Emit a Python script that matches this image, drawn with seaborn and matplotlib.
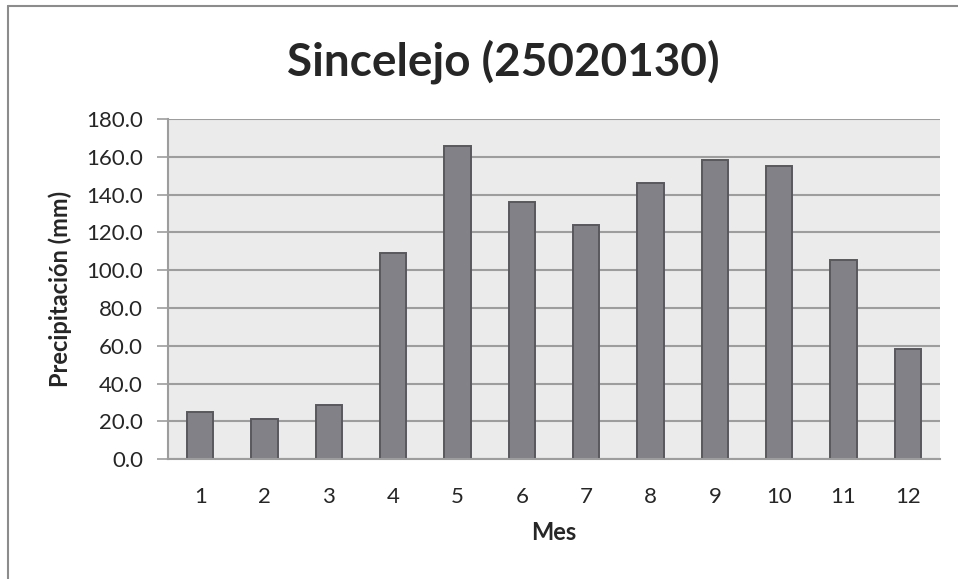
import matplotlib
matplotlib.use("Agg")
import matplotlib.pyplot as plt
from matplotlib.lines import Line2D
import numpy as np
import pandas as pd
import seaborn as sns

# Monthly precipitation, station Sincelejo (25020130)
meses = ["1", "2", "3", "4", "5", "6", "7", "8", "9", "10", "11", "12"]
precipitacion = [24.8, 21.4, 28.7, 109.2, 165.5, 135.9, 123.8, 146.3, 158.5, 155.3, 105.3, 58.6]
y_ticks = [0, 20, 40, 60, 80, 100, 120, 140, 160, 180]

df = pd.DataFrame({"Mes": meses, "Precipitación (mm)": precipitacion})

sns.set_theme(style="white")
plt.rcParams["font.family"] = ["Lato", "DejaVu Sans"]

W, H = 958, 579
fig = plt.figure(figsize=(W / 100, H / 100), dpi=100)
fig.patch.set_facecolor("white")

# plot area in pixel coordinates
left, right, top, bottom = 168, 940, 119, 459.3
ax = fig.add_axes([left / W, 1 - bottom / H, (right - left) / W, (bottom - top) / H])
ax.set_facecolor("#ebebeb")

sns.barplot(data=df, x="Mes", y="Precipitación (mm)", color="#828188",
            edgecolor="#58585d", linewidth=1.4, width=0.41, saturation=1, ax=ax)

ax.set_xlim(-0.5, len(meses) - 0.5)
ax.set_ylim(0, 180)
ax.set_yticks(y_ticks)
ax.set_yticklabels([f"{v:.1f}" for v in y_ticks])
ax.yaxis.grid(True, color="#9d9d9d", linewidth=1.5)
ax.set_axisbelow(True)

# category boundaries get the tick marks, labels sit centred
ax.set_xticks(np.arange(-0.5, len(meses) + 0.5), minor=True)
ax.tick_params(axis="x", which="minor", length=7, width=1.2, color="#9d9d9d", direction="out")
ax.tick_params(axis="x", which="major", length=0, pad=20, labelsize=16, labelcolor="#262626")
ax.tick_params(axis="y", which="major", length=8, width=1.2, color="#9d9d9d",
               direction="out", pad=10, labelsize=16, labelcolor="#262626", left=True)

for side in ["top", "right"]:
    ax.spines[side].set_visible(False)
for side in ["left", "bottom"]:
    ax.spines[side].set_color("#9d9d9d")
    ax.spines[side].set_linewidth(1.5)

ax.set_xlabel("Mes", fontsize=17, fontweight="bold", color="#262626", labelpad=10)
ax.set_ylabel("Precipitación (mm)", fontsize=17, fontweight="bold", color="#262626", labelpad=10)

fig.text(503 / W, 1 - 62 / H, "Sincelejo (25020130)",
         ha="center", va="center", fontsize=33, fontweight="bold", color="#262626")

# chart frame
fig.add_artist(Line2D([8 / W, 8 / W], [0, 1 - 6 / H], transform=fig.transFigure,
                      color="#8c8c8c", linewidth=1.5))
fig.add_artist(Line2D([8 / W, 1], [1 - 6 / H, 1 - 6 / H], transform=fig.transFigure,
                      color="#8c8c8c", linewidth=1.5))

fig.savefig("out.png", dpi=100, facecolor="white")
